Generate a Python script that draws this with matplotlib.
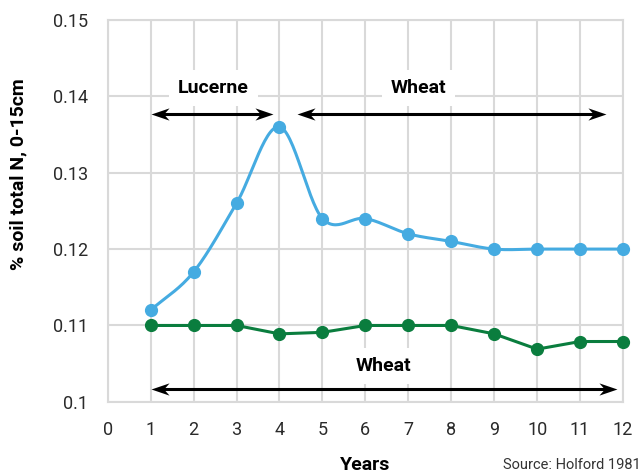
import numpy as np
import matplotlib

matplotlib.use("Agg")
import matplotlib.pyplot as plt
from matplotlib.path import Path

years = [1, 2, 3, 4, 5, 6, 7, 8, 9, 10, 11, 12]
lucerne_wheat = [0.112, 0.117, 0.126, 0.136, 0.124, 0.124, 0.122, 0.121, 0.120, 0.120, 0.120, 0.120]
wheat_only = [0.110, 0.110, 0.110, 0.1089, 0.1091, 0.110, 0.110, 0.110, 0.1089, 0.1069, 0.1079, 0.1079]
x_ticks = list(range(0, 13))
y_ticks = [0.10, 0.11, 0.12, 0.13, 0.14, 0.15]
y_tick_labels = ["0.1", "0.11", "0.12", "0.13", "0.14", "0.15"]

BLUE = "#45ABE1"
GREEN = "#0A7D3E"
GRID = "#D9D9D9"

plt.rcParams["font.family"] = ["Roboto", "DejaVu Sans"]


def smooth(xs, ys, n=30):
    # Catmull-Rom curve through the points (spreadsheet-style smoothed line)
    xs = np.asarray(xs, float)
    ys = np.asarray(ys, float)
    px = np.concatenate([[2 * xs[0] - xs[1]], xs, [2 * xs[-1] - xs[-2]]])
    py = np.concatenate([[2 * ys[0] - ys[1]], ys, [2 * ys[-1] - ys[-2]]])
    out_x, out_y = [], []
    t = np.linspace(0, 1, n)
    for i in range(1, len(px) - 2):
        for p, out in ((px, out_x), (py, out_y)):
            p0, p1, p2, p3 = p[i - 1], p[i], p[i + 1], p[i + 2]
            out.extend(0.5 * ((2 * p1) + (-p0 + p2) * t
                              + (2 * p0 - 5 * p1 + 4 * p2 - p3) * t ** 2
                              + (-p0 + 3 * p1 - 3 * p2 + p3) * t ** 3))
    return np.array(out_x), np.array(out_y)


# concave arrowhead with its tip at the origin, pointing right
head = Path([(0, 0), (-1, 0.34), (-0.7, 0), (-1, -0.34), (0, 0)],
            [Path.MOVETO, Path.LINETO, Path.LINETO, Path.LINETO, Path.CLOSEPOLY])
head_left = head.transformed(matplotlib.transforms.Affine2D().rotate_deg(180))


def span_arrow(ax, x0, x1, y):
    ax.plot([x0 + 0.2, x1 - 0.2], [y, y], color="black", lw=2.2, zorder=5, solid_capstyle="butt")
    ax.plot([x0], [y], marker=head_left, ms=26, color="black", mec="none", zorder=6)
    ax.plot([x1], [y], marker=head, ms=26, color="black", mec="none", zorder=6)


fig = plt.figure(figsize=(6.41, 4.75), dpi=100)
ax = fig.add_axes([0.168, 0.154, 0.804, 0.804])

ax.set_xlim(0, 12)
ax.set_ylim(0.10, 0.15)
ax.set_xticks(x_ticks)
ax.set_yticks(y_ticks)
ax.set_yticklabels(y_tick_labels)
ax.grid(True, color=GRID, lw=1.5)
ax.set_axisbelow(True)
for s in ax.spines.values():
    s.set_color(GRID)
    s.set_linewidth(1.5)
ax.tick_params(length=0, labelsize=13, labelcolor="#2a2a2a")
ax.tick_params(axis="y", pad=14)
ax.tick_params(axis="x", pad=14)

sx, sy = smooth(years, lucerne_wheat)
ax.plot(sx, sy, color=BLUE, lw=2.2, zorder=3, clip_on=False)
ax.plot(years, lucerne_wheat, "o", color=BLUE, ms=8.5, zorder=4, clip_on=False)
ax.plot(years, wheat_only, "-o", color=GREEN, lw=2.2, ms=8.5, zorder=4, clip_on=False)

span_arrow(ax, 1, 3.85, 0.1377)
span_arrow(ax, 4.4, 11.6, 0.1377)
span_arrow(ax, 1, 11.85, 0.1017)

box = dict(boxstyle="square,pad=0.45", fc="white", ec="none")
ax.text(2.46, 0.1411, "Lucerne", ha="center", va="center", fontsize=14,
        fontweight="bold", bbox=box, zorder=5)
ax.text(7.23, 0.1411, "Wheat", ha="center", va="center", fontsize=14,
        fontweight="bold", bbox=box, zorder=5)
ax.text(6.42, 0.1047, "Wheat", ha="center", va="center", fontsize=14,
        fontweight="bold", bbox=box, zorder=5)

fig.text(0.028, 1 - 174 / 475, "% soil total N, 0-15cm", rotation=90, ha="center",
         va="center", fontsize=14, fontweight="bold")
fig.text(365 / 641, 1 - 465 / 475, "Years", ha="center", va="center", fontsize=14,
         fontweight="bold")
fig.text(0.999, 1 - 465 / 475, "Source: Holford 1981", ha="right", va="center",
         fontsize=10.5, color="#333333")

fig.savefig("out.png", dpi=100)
